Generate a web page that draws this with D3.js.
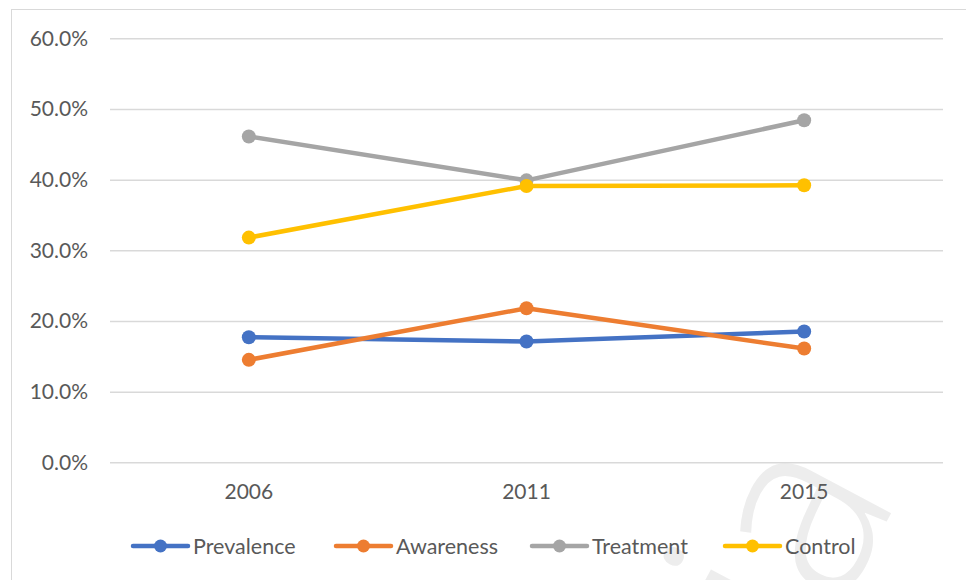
<!DOCTYPE html>
<html>
<head>
<meta charset="utf-8">
<script src="https://cdn.jsdelivr.net/npm/d3@7"></script>
<style>
  html, body { margin: 0; padding: 0; background: #fff; }
  svg { display: block; }
  text { font-family: Lato, "Open Sans", sans-serif; }
</style>
</head>
<body>
<svg id="chart" width="966" height="580"></svg>
<script>
// Survey years on the category axis
const years = ["2006", "2011", "2015"];

// Rates per year, as percentages
const prevalence = [17.7, 17.1, 18.5];
const awareness  = [14.5, 21.8, 16.1];
const treatment  = [46.1, 39.9, 48.4];
const control    = [31.8, 39.1, 39.2];

const seriesNames  = ["Prevalence", "Awareness", "Treatment", "Control"];
const seriesColors = ["#4472c4", "#ed7d31", "#a5a5a5", "#ffc000"];

// Value-axis ticks
const yTicks = [0, 10, 20, 30, 40, 50, 60];

const series = [prevalence, awareness, treatment, control].map((vals, i) => ({
  name: seriesNames[i],
  color: seriesColors[i],
  values: vals.map((v, j) => ({ year: years[j], value: v }))
}));

const svg = d3.select("#chart");

// Chart frame
svg.append("rect")
  .attr("x", 11.5).attr("y", 9.5)
  .attr("width", 970).attr("height", 600)
  .attr("fill", "#fff")
  .attr("stroke", "#d9d9d9").attr("stroke-width", 1);

// Faint background mark behind the lower right corner
svg.append("text")
  .attr("transform", "translate(812,662) rotate(-62)")
  .attr("font-size", 250)
  .attr("font-weight", 300)
  .attr("fill", "#ededed")
  .style("font-family", "'Open Sans', sans-serif")
  .text("ia");

const plot = { left: 110, right: 943, top: 38.3, bottom: 462.3 };

const x = d3.scaleBand().domain(years).range([plot.left, plot.right]);
const y = d3.scaleLinear().domain([0, 60]).range([plot.bottom, plot.top]);

const labelFont = 21;

// Horizontal gridlines and value labels
const yAxis = d3.axisLeft(y)
  .tickValues(yTicks)
  .tickSize(-(plot.right - plot.left))
  .tickPadding(22)
  .tickFormat(d => d3.format(".1f")(d) + "%");

const gy = svg.append("g")
  .attr("transform", `translate(${plot.left},0)`)
  .call(yAxis);
gy.select(".domain").remove();
gy.selectAll(".tick line").attr("stroke", "#d9d9d9").attr("stroke-width", 1.5);
gy.selectAll(".tick text")
  .attr("fill", "#595959")
  .attr("font-size", labelFont)
  .style("font-family", "Lato, sans-serif");

// Category labels
const xAxis = d3.axisBottom(x).tickSize(0).tickPadding(22);
const gx = svg.append("g")
  .attr("transform", `translate(0,${plot.bottom})`)
  .call(xAxis);
gx.select(".domain").remove();
gx.selectAll(".tick text")
  .attr("fill", "#595959")
  .attr("font-size", labelFont)
  .style("font-family", "Lato, sans-serif");

const cx = d => x(d.year) + x.bandwidth() / 2;

const line = d3.line().x(cx).y(d => y(d.value));

const gSeries = svg.append("g")
  .selectAll("g")
  .data(series)
  .join("g");

gSeries.append("path")
  .attr("d", d => line(d.values))
  .attr("fill", "none")
  .attr("stroke", d => d.color)
  .attr("stroke-width", 4.5)
  .attr("stroke-linejoin", "round")
  .attr("stroke-linecap", "round");

gSeries.selectAll("circle")
  .data(d => d.values.map(v => ({ ...v, color: d.color })))
  .join("circle")
  .attr("cx", cx)
  .attr("cy", d => y(d.value))
  .attr("r", 7)
  .attr("fill", d => d.color);

// Legend along the bottom
const legendX = [133, 336, 532, 725];
const legendY = 546;
const leg = svg.append("g")
  .selectAll("g")
  .data(series)
  .join("g")
  .attr("transform", (d, i) => `translate(${legendX[i]},${legendY})`);

leg.append("line")
  .attr("x1", 0).attr("x2", 55)
  .attr("stroke", d => d.color)
  .attr("stroke-width", 4.5)
  .attr("stroke-linecap", "round");
leg.append("circle")
  .attr("cx", 27.5).attr("r", 6.5)
  .attr("fill", d => d.color);
leg.append("text")
  .attr("x", 60)
  .attr("dy", "0.35em")
  .attr("fill", "#595959")
  .attr("font-size", 21.5)
  .style("font-family", "Lato, sans-serif")
  .text(d => d.name);
</script>
</body>
</html>
